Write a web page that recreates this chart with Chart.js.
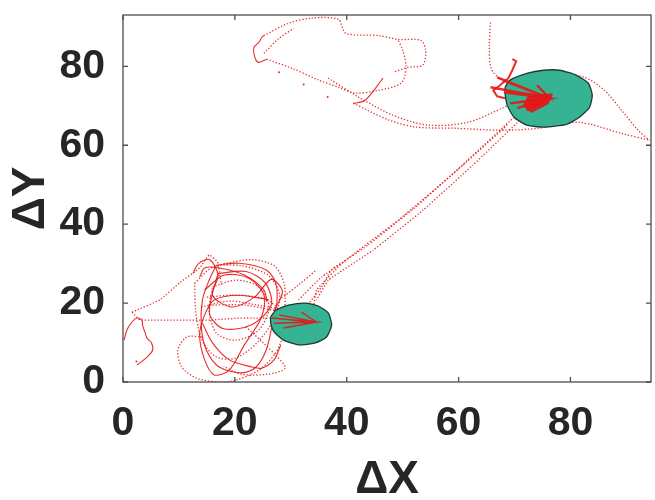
<!DOCTYPE html>
<html>
<head>
<meta charset="utf-8">
<script src="https://cdn.jsdelivr.net/npm/chart.js@4.4.1/dist/chart.umd.min.js"></script>
<style>
  html, body { margin: 0; padding: 0; background: #fff; }
  #wrap { width: 655px; height: 500px; }
</style>
</head>
<body>
<div id="wrap"><canvas id="c" width="655" height="500"></canvas></div>
<script>
// ---- axes ----
const xRange = [0, 94.4];
const yRange = [0, 93];
const tickStep = 20;

// ---- target zones (outline vertices) ----
const zoneLow = [[26.4,16.5],[27.3,18.2],[29.6,19.5],[32.7,20.0],[35.0,19.2],[36.7,17.5],[37.3,14.4],[36.4,11.4],[34.4,9.9],[31.4,9.4],[28.7,10.6],[27.0,12.7],[26.4,14.9],[26.4,16.5]];
const zoneHigh = [[68.3,74.7],[69.2,76.5],[72.2,78.2],[75.2,79.0],[78.1,79.0],[81.1,77.7],[83.2,75.7],[83.9,72.7],[83.4,69.6],[81.6,67.1],[79.3,65.3],[75.2,64.6],[72.2,65.1],[69.9,67.1],[68.7,70.1],[68.3,73.2],[68.3,74.7]];

// ---- trajectory pieces, upper region ----
const topArc = [[25.2,87.8],[29.6,90.9],[33.7,92.2],[38.5,91.9],[39.8,88.4],[45.6,87.8],[49.2,86.8],[53.2,86.6],[54.1,84.1],[53.6,80.3],[50.9,79.7],[48.3,78.5]];
const topWiggle = [[25.2,87.8],[24.8,87.3],[24.3,86.1],[23.4,84.8],[23.4,83.3],[23.8,81.5],[24.3,81.0],[25.7,81.8]];
const topLower = [[25.7,81.8],[30.2,79.5],[35.0,76.5],[38.5,74.7],[41.5,73.2],[45.6,73.9],[49.7,75.7],[50.6,79.7],[50.0,84.1],[49.2,86.6]];
const topInner = [[25.2,83.3],[27.9,87.1],[30.5,89.6]];
const topSlash = [[46.5,77.0],[43.3,71.4],[41.2,70.6]];
const lowRoute = [[41.2,70.6],[47.7,66.3],[52.4,64.6],[59.4,64.3],[67.8,63.8],[74.4,64.3],[81.5,65.8],[89.1,63.0],[94.1,61.3]];
const midRoute = [[36.7,77.0],[42.1,72.2],[48.3,67.6],[54.5,65.1],[61.6,65.8],[67.8,69.4],[70.5,71.4]];
const dropLine = [[65.7,91.1],[65.5,85.3],[65.8,79.5],[67.3,77.0],[69.6,75.9]];
const rightArc = [[77.6,78.2],[82.5,77.2],[86.1,73.9],[89.1,68.9],[92.1,63.8],[94.1,61.3]];
const hook = [[69.6,81.8],[70.3,81.3],[69.6,79.0],[68.9,77.0],[67.4,75.2],[66.2,73.9],[66.9,72.4],[68.3,71.9]];
const burstHigh = [[76.3,71.9],[66.9,77.2],[76.3,71.9],[65.7,74.7],[76.3,71.9],[68.1,73.4],[76.3,71.9],[69.2,70.6],[76.3,71.9],[70.5,69.4],[76.3,71.9],[72.2,68.9],[76.3,71.9],[67.8,76.5],[76.3,71.9],[74.0,75.2],[76.3,71.9],[73.0,70.0],[76.3,71.9],[72.5,73.0],[76.3,71.9]];
const burstTip = [[72.5,72.5],[76.8,73.0],[76.0,70.5],[73.0,68.3],[71.5,70.0],[72.5,72.5]];

// ---- transfer between zones ----
const crossA = [[69.9,67.1],[61.6,56.2],[52.7,44.8],[43.8,34.7],[35.5,26.6],[31.4,20.8]];
const crossB = [[71.3,66.8],[62.5,54.9],[53.6,43.5],[44.7,33.4],[36.7,25.8],[34.6,20.8]];
const crossC = [[68.7,65.1],[59.8,53.7],[49.2,41.0],[39.4,30.4],[34.6,23.3],[34.1,19.5]];

// ---- lower region ----
const leftWiggle = [[2.5,4.3],[4.3,6.3],[5.3,8.1],[5.1,9.9],[4.3,11.1],[3.9,12.7],[3.5,14.4],[3.4,15.7],[2.5,16.2],[1.6,15.2],[0.7,13.2],[0.2,10.6]];
const leftRise = [[1.6,17.7],[6.6,20.8],[10.1,25.1],[13.7,28.9],[15.4,32.2],[16.9,30.4],[17.6,24.6]];
const leftFlat = [[1.6,17.7],[3.0,15.7],[9.2,15.7],[15.4,15.7],[20.8,16.2],[26.4,16.2],[32.7,15.7]];
const loopOuter = [[16.7,29.6],[20.8,30.1],[25.6,28.4],[27.3,25.1],[27.5,20.0],[26.6,13.9],[25.6,8.1],[23.8,3.8],[21.3,2.3],[17.2,3.8],[14.9,8.1],[14.0,13.9],[14.2,20.8],[15.4,25.8],[16.7,29.6]];
const loopLower = [[14.2,11.4],[11.4,11.4],[9.8,8.1],[10.5,3.8],[13.1,1.0],[17.2,0.0],[20.2,0.5],[24.3,3.0],[27.3,7.3],[28.4,10.6],[29.6,13.2]];
const loopInner = [[16.0,24.1],[20.2,25.8],[24.3,24.1],[26.1,19.0],[24.3,13.2],[20.2,10.6],[16.7,12.4],[15.4,18.2],[16.0,24.1]];
const loopMid = [[14.6,23.3],[18.1,27.1],[22.5,26.3],[25.2,22.0],[24.7,16.2],[21.7,9.4],[19.0,3.0],[16.3,1.8],[14.6,5.6],[13.7,11.9],[14.6,17.0],[16.3,20.8],[20.8,22.0],[26.1,20.8]];
const loopTop = [[13.7,26.6],[14.6,28.9],[17.2,28.9],[21.7,27.1],[25.2,23.3],[25.7,20.3]];
const loopWide = [[12.8,25.0],[16.0,29.0],[21.0,29.5],[26.0,27.0],[28.0,22.0],[27.0,16.0],[24.0,10.0],[20.0,6.0],[16.5,6.5],[14.0,11.0],[13.0,18.0],[12.8,25.0]];
const loopSmall = [[17.0,27.5],[22.0,28.0],[25.5,25.0],[26.5,19.5],[23.0,14.5],[18.0,13.5],[15.5,17.0],[16.0,22.5],[17.0,27.5]];
const loopCorner = [[22.0,14.0],[25.0,10.0],[27.5,6.5],[29.0,3.5],[26.0,2.0],[21.0,2.0],[18.0,4.0]];
const chaosA = [[12.5,27.5],[13.5,30.0],[15.5,31.0],[17.0,27.0],[16.0,22.0],[19.5,19.0],[23.5,21.5],[26.5,26.0],[28.5,23.0],[27.0,18.0]];
const chaosB = [[18.0,30.0],[23.0,31.0],[27.0,29.5],[28.8,25.0],[29.0,19.0]];
const sweepDown = [[14.2,14.9],[16.0,9.9],[19.0,5.6],[23.1,3.8],[24.8,3.5],[27.0,5.6],[28.2,9.4]];
const exitUp = [[32.7,19.0],[35.5,24.1],[37.3,28.4],[39.4,30.4]];
const exitUp2 = [[27.9,20.8],[31.4,24.6],[34.6,28.4]];
const rays = [[16.0,19.5],[21.7,19.5],[27.0,18.2],[31.4,17.7]];
const raysB = [[14.0,19.0],[19.0,20.5],[24.0,19.5],[28.0,18.5]];
const raysC = [[15.0,21.5],[20.0,22.0],[25.5,21.0],[29.0,17.0]];
const burstLow = [[34.6,15.2],[26.6,16.2],[34.6,15.2],[27.0,14.9],[34.6,15.2],[27.9,17.0],[34.6,15.2],[28.7,13.7],[34.6,15.2],[29.6,15.7],[34.6,15.2],[31.9,17.7],[34.6,15.2]];
const strayDots = [[27.9,78.5],[32.3,75.4],[36.6,72.2],[2.4,5.2]];

const RED = 'rgba(228,22,22,0.9)';
const toPts = arr => arr.map(([x, y]) => ({ x, y }));

function path(arr, opts = {}) {
  return Object.assign({
    data: toPts(arr),
    showLine: true,
    borderColor: RED,
    borderWidth: 1.3,
    borderDash: [1.3, 1.9],
    pointRadius: 0,
    tension: 0.3,
    fill: false,
    order: 3
  }, opts);
}

function zone(arr) {
  return {
    data: toPts(arr),
    showLine: true,
    borderColor: '#1f3b32',
    borderWidth: 1.3,
    backgroundColor: '#35b392',
    pointRadius: 0,
    tension: 0.2,
    fill: 'shape',
    order: 2
  };
}

const solid = { borderDash: [], borderWidth: 1.1 };

const datasets = [
  path(burstHigh, { borderDash: [], borderWidth: 2.4, tension: 0, order: 1 }),
  path(burstTip, { borderDash: [], borderWidth: 1, tension: 0, fill: 'shape', backgroundColor: RED, order: 1 }),
  path(burstLow, { borderDash: [], borderWidth: 1.4, tension: 0, order: 1 }),
  path(hook, { borderDash: [], borderWidth: 2, tension: 0, order: 1 }),
  zone(zoneLow),
  zone(zoneHigh),
  path(topArc),
  path(topWiggle, solid),
  path(topLower),
  path(topInner),
  path(topSlash, solid),
  path(lowRoute),
  path(midRoute),
  path(dropLine),
  path(rightArc),
  path(crossA, { tension: 0.1 }),
  path(crossB, { tension: 0.1 }),
  path(crossC, { tension: 0.1 }),
  path(leftWiggle, solid),
  path(leftRise, { tension: 0.1 }),
  path(leftFlat, { tension: 0 }),
  path(loopOuter, solid),
  path(loopLower),
  path(loopInner),
  path(loopMid, solid),
  path(loopTop, solid),
  path(loopWide),
  path(loopSmall, solid),
  path(loopCorner),
  path(chaosA, solid),
  path(chaosB),
  path(sweepDown, solid),
  path(exitUp),
  path(exitUp2),
  path(rays),
  path(raysB),
  path(raysC),
  { data: toPts(strayDots), showLine: false, pointRadius: 1, backgroundColor: RED, borderWidth: 0, order: 3 }
];

// box around the plot with inward ticks on all sides
const frame = {
  id: 'frame',
  afterDraw(chart) {
    const { ctx, chartArea: a, scales: { x, y } } = chart;
    ctx.save();
    ctx.strokeStyle = '#4d4d4d';
    ctx.lineWidth = 1.3;
    ctx.strokeRect(a.left, a.top, a.right - a.left, a.bottom - a.top);
    ctx.beginPath();
    x.ticks.forEach(t => {
      const px = x.getPixelForValue(t.value);
      ctx.moveTo(px, a.bottom); ctx.lineTo(px, a.bottom - 5);
      ctx.moveTo(px, a.top); ctx.lineTo(px, a.top + 5);
    });
    y.ticks.forEach(t => {
      const py = y.getPixelForValue(t.value);
      ctx.moveTo(a.left, py); ctx.lineTo(a.left + 5, py);
      ctx.moveTo(a.right, py); ctx.lineTo(a.right - 5, py);
    });
    ctx.stroke();
    ctx.restore();
  }
};

Chart.defaults.font.family = '"Liberation Sans", Arial, sans-serif';
Chart.defaults.color = '#262626';

new Chart(document.getElementById('c'), {
  type: 'scatter',
  data: { datasets },
  options: {
    responsive: false,
    animation: false,
    layout: { padding: { top: 15, right: 0, left: 0, bottom: 0 } },
    plugins: { legend: { display: false }, tooltip: { enabled: false } },
    scales: {
      x: {
        type: 'linear',
        min: xRange[0], max: xRange[1],
        grid: { display: false },
        border: { display: false },
        ticks: { stepSize: tickStep, includeBounds: false, padding: 9, font: { size: 41, weight: 'bold' } },
        title: { display: true, text: 'ΔX', font: { size: 46, weight: 'bold', lineHeight: 0.85 }, padding: 0 },
        afterFit(s) { s.height = 118; s.paddingLeft = 0; s.paddingRight = 0; }
      },
      y: {
        type: 'linear',
        min: yRange[0], max: yRange[1],
        grid: { display: false },
        border: { display: false },
        ticks: { stepSize: tickStep, includeBounds: false, padding: 10, font: { size: 41, weight: 'bold' } },
        title: { display: true, text: 'ΔY', font: { size: 46, weight: 'bold' }, padding: { top: 4, bottom: 0 } },
        afterFit(s) { s.width = 123; s.paddingTop = 0; s.paddingBottom = 0; }
      }
    }
  },
  plugins: [frame]
});
</script>
</body>
</html>
